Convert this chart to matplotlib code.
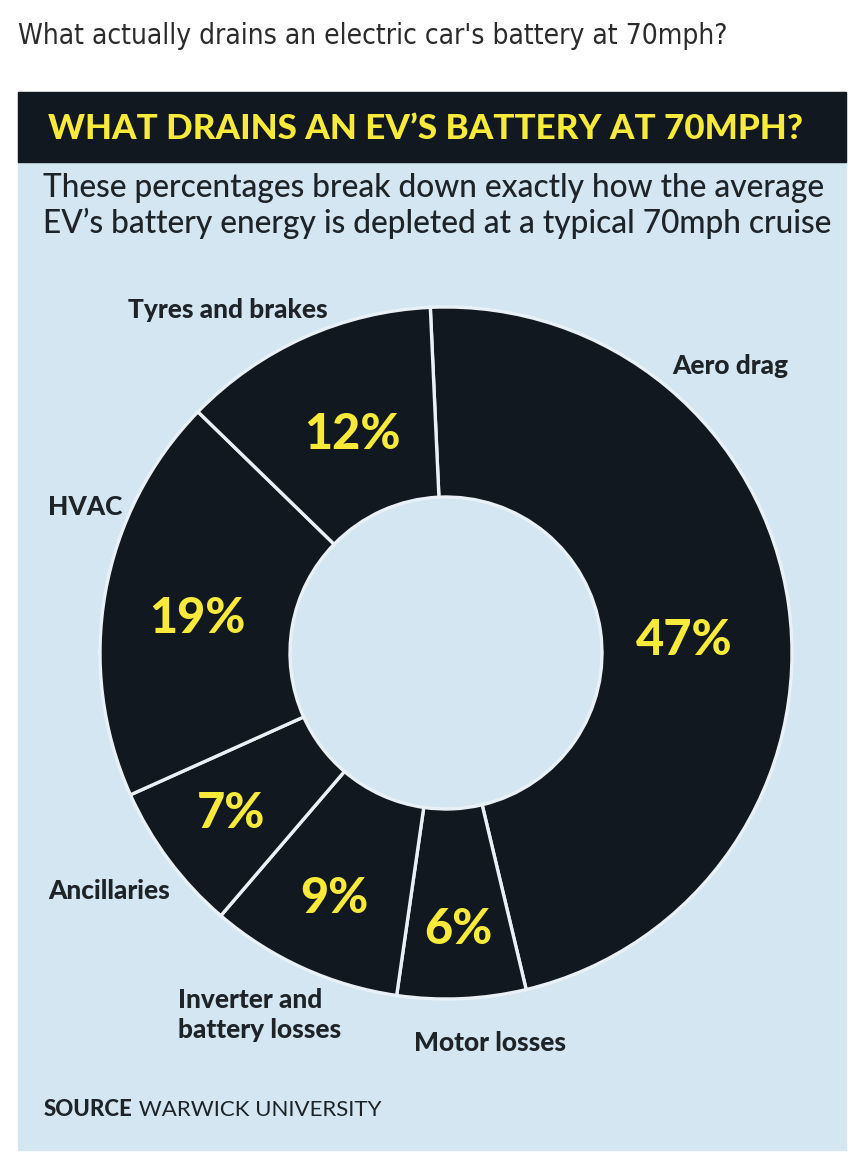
import numpy as np
import matplotlib
matplotlib.use("Agg")
import matplotlib.pyplot as plt
from matplotlib.patches import Rectangle
from matplotlib import font_manager

# data (clockwise from the top)
categories = ['Aero drag', 'Motor losses', 'Inverter and\nbattery losses',
              'Ancillaries', 'HVAC', 'Tyres and brakes']
shares = [47, 6, 9, 7, 19, 12]

page_title = "What actually drains an electric car's battery at 70mph?"
header = "WHAT DRAINS AN EV\u2019S BATTERY AT 70MPH?"
subtitle = ["These percentages break down exactly how the average",
            "EV\u2019s battery energy is depleted at a typical 70mph cruise"]
source_bold = "SOURCE"
source_rest = " WARWICK UNIVERSITY"

DARK = '#111820'
PANEL = '#d3e6f1'
YELLOW = '#f8ea3a'
INK = '#1e2328'
SANS = ['Lato', 'DejaVu Sans']

W, H = 867, 1164
fig = plt.figure(figsize=(W / 100, H / 100), dpi=100)
fig.patch.set_facecolor('white')
ax = fig.add_axes([0, 0, 1, 1])


def Y(py):
    # pixel row (from top) -> data y
    return H - py


renderer = fig.canvas.get_renderer()


def fit_text(x, y, s, width_px, **kw):
    t = ax.text(x, y, s, **kw)
    w = t.get_window_extent(renderer).width
    t.set_fontsize(t.get_fontsize() * width_px / w)
    return t


def narrow_font():
    # look for a condensed face for the page title
    best = None
    for f in font_manager.fontManager.ttflist:
        name = f.name.lower()
        st = str(f.stretch).lower()
        if 'narrow' in name or 'condensed' in name or 'condensed' in st:
            if f.style != 'normal':
                continue
            w = f.weight if isinstance(f.weight, int) else 400
            score = abs(w - 400)
            if best is None or score < best[0]:
                best = (score, f.fname)
    if best:
        return font_manager.FontProperties(fname=best[1])
    return font_manager.FontProperties(family='DejaVu Sans')


# panel + header band
ax.add_patch(Rectangle((18, Y(1150)), 828, 1150 - 92, color=PANEL, zorder=0))
ax.add_patch(Rectangle((18, Y(162)), 828, 162 - 92, color=DARK, zorder=1))

# donut
cx, cy, R, r_in = 446, Y(653), 346, 156
wedges, _ = ax.pie(shares, startangle=92.6, counterclock=False, radius=R,
                   center=(cx, cy), colors=[DARK] * len(shares),
                   wedgeprops=dict(width=R - r_in, edgecolor='#e9f1f6',
                                   linewidth=2.4))
for w in wedges:
    w.set_zorder(2)

# percentage labels in each segment
pct_r = [239, 277, 270, 268, 251, 238]
pct_da = [-5, 0, 0, 0, 2, -1]
for w, v, rr, da in zip(wedges, shares, pct_r, pct_da):
    a = np.deg2rad((w.theta1 + w.theta2) / 2 + da)
    ax.text(cx + rr * np.cos(a), cy + rr * np.sin(a), f"{v}%",
            color=YELLOW, fontsize=35, fontweight='black',
            family=SANS, ha='center', va='center', zorder=3)

# category labels outside the ring
lab_pos = {'Aero drag': (672, 366), 'Motor losses': (414, 1043),
           'Inverter and\nbattery losses': (178, 1015),
           'Ancillaries': (48, 891), 'HVAC': (48, 507),
           'Tyres and brakes': (128, 310)}
probe = ax.text(0, 0, 'Tyres and brakes', fontsize=14, fontweight='black',
                family=SANS)
lab_fs = 14 * 200 / probe.get_window_extent(renderer).width
probe.remove()
for c in categories:
    x, y = lab_pos[c]
    ax.text(x, Y(y), c, fontsize=lab_fs, fontweight='black', color=INK,
            family=SANS, ha='left', va='center',
            linespacing=1.25, zorder=3)

# texts
tp = narrow_font()
tp.set_size(24)
fit_text(18, Y(36), page_title, 712, fontproperties=tp, color='#2b2b2b',
         va='center')
fit_text(48, Y(129), header, 755, fontsize=20, fontweight='black',
         color=YELLOW, family=SANS, va='center', zorder=3)
t2 = fit_text(43, Y(223), subtitle[1], 790, fontsize=18, color=INK,
              fontweight='medium', family=SANS, va='center', zorder=3)
ax.text(43, Y(188), subtitle[0], fontsize=t2.get_fontsize(), color=INK,
        fontweight='medium', family=SANS, va='center', zorder=3)

sb = ax.text(44, Y(1110), source_bold, fontsize=16, fontweight='black',
             color=INK, family=SANS, va='center', zorder=3)
bw = sb.get_window_extent(renderer).width
ax.text(44 + bw, Y(1110), source_rest, fontsize=16, color=INK,
        family=SANS, va='center', zorder=3)

ax.set_xlim(0, W)
ax.set_ylim(0, H)
ax.set_aspect('equal')
ax.axis('off')

fig.savefig('out.png', dpi=100, facecolor='white')
